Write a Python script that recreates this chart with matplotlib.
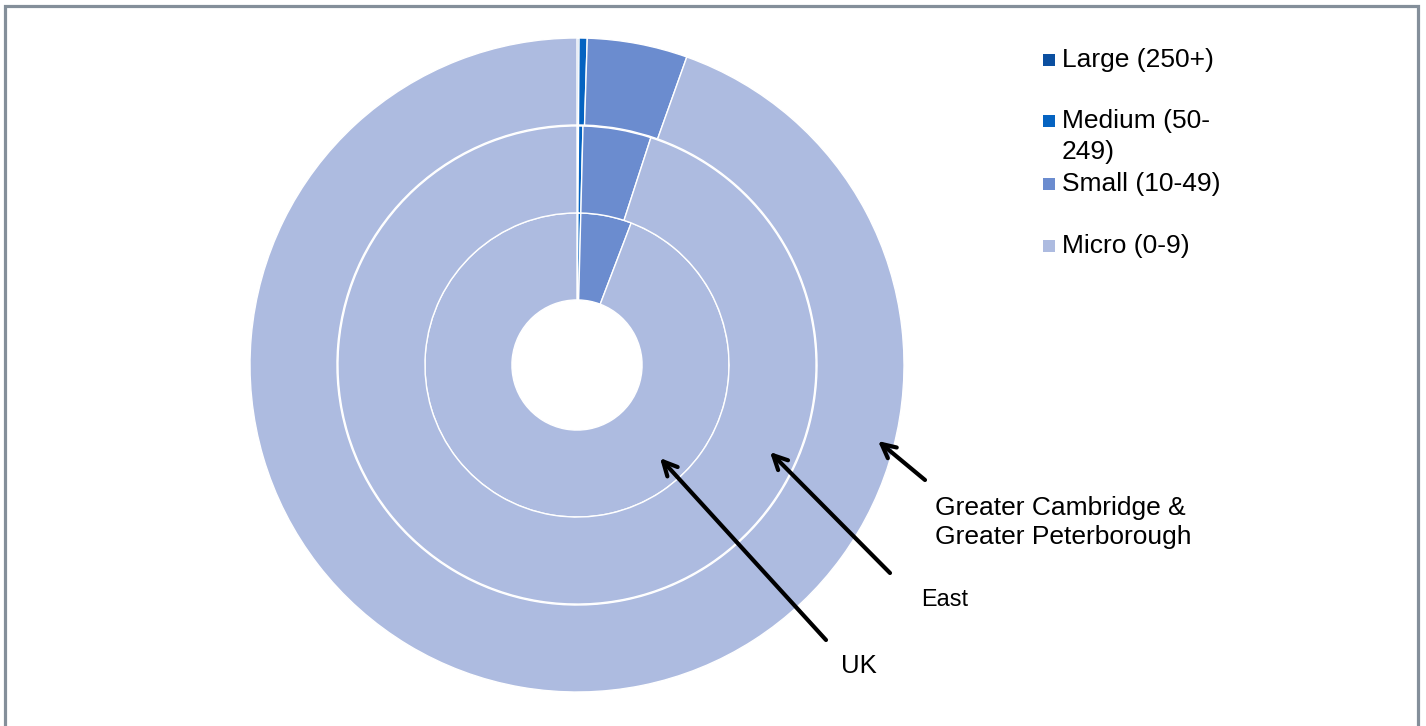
import matplotlib
matplotlib.use("Agg")
import matplotlib.pyplot as plt
from matplotlib.patches import Rectangle

plt.rcParams['font.family'] = ['Liberation Sans', 'DejaVu Sans']

# Data (percent of businesses by size band)
size_bands = ["Large (250+)", "Medium (50-\n249)", "Small (10-49)", "Micro (0-9)"]
colors = ["#0B4FA0", "#0563C1", "#6B8CCF", "#ADBBE0"]
areas = ["UK", "East", "Greater Cambridge &\nGreater Peterborough"]  # inner -> outer
uk = [0.1, 0.3, 5.4, 94.2]
east = [0.1, 0.3, 4.6, 95.0]
gcgp = [0.1, 0.4, 4.95, 94.55]

W, H = 1426, 726
fig = plt.figure(figsize=(W / 100, H / 100), dpi=100)

# Axes: centre (577, 365) px, outer radius 327 px
cx, cy, R = 577, 365, 327
half = 335
ax = fig.add_axes([(cx - half) / W, (H - cy - half) / H, 2 * half / W, 2 * half / H])

width = 0.266
radii = [0.465, 0.731, 1.0]
for vals, r in zip([uk, east, gcgp], radii):
    ax.pie(vals, radius=r, colors=colors, startangle=90, counterclock=False,
           wedgeprops=dict(width=width, edgecolor='white', linewidth=1.0))
ax.set_xlim(-half / R, half / R)
ax.set_ylim(-half / R, half / R)
ax.set_aspect('equal')
ax.axis('off')

# Arrow annotations (figure pixel coordinates, y from bottom)
def fp(x, y):
    return (x, H - y)

arrow_kw = dict(arrowstyle='->,head_length=1.0,head_width=0.5', color='black', lw=3.0,
                shrinkA=0, shrinkB=0)
ax.annotate('', xy=fp(660, 458), xytext=fp(826, 640), xycoords='figure pixels',
            textcoords='figure pixels', arrowprops=arrow_kw)
ax.annotate('', xy=fp(770, 452), xytext=fp(890, 573), xycoords='figure pixels',
            textcoords='figure pixels', arrowprops=arrow_kw)
ax.annotate('', xy=fp(878, 441), xytext=fp(925, 480), xycoords='figure pixels',
            textcoords='figure pixels', arrowprops=arrow_kw)

# Area labels
gc1, gc2 = areas[2].split('\n')
fig.text(935 / W, (H - 508) / H, gc1, fontsize=19, va='center', ha='left')
fig.text(935 / W, (H - 537) / H, gc2, fontsize=19, va='center', ha='left')
fig.text(921 / W, (H - 600) / H, areas[1], fontsize=16.8, va='center', ha='left')
fig.text(841 / W, (H - 666) / H, areas[0], fontsize=18.5, va='center', ha='left')

# Legend (manual)
leg_rows = [60, 121, 184, 246]
for label, col, yc in zip(size_bands, colors, leg_rows):
    fig.patches.append(Rectangle(((1043) / W, (H - yc - 6) / H), 12 / W, 12 / H,
                                 transform=fig.transFigure, facecolor=col, edgecolor='none'))
    lines = label.split('\n')
    for i, ln in enumerate(lines):
        fig.text(1062 / W, (H - yc - 31.5 * i) / H, ln, fontsize=19, va='center', ha='left')

# Border
fig.patches.append(Rectangle((4.5 / W, -20 / H), (1417.5 - 4.5) / W, (H - 5.5 + 20) / H,
                             transform=fig.transFigure, facecolor='none',
                             edgecolor='#848F9A', linewidth=2.3))

fig.savefig('out.png', dpi=100, facecolor='white')
